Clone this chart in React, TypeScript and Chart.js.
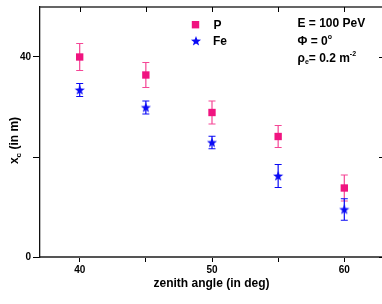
import { useEffect, useRef } from 'react';
import { Chart, registerables } from 'chart.js';
Chart.register(...registerables);

const angles = [40, 45, 50, 55, 60];
const pValues = [40.0, 36.4, 28.9, 24.1, 13.8];
const pErrors = [2.7, 2.5, 2.3, 2.2, 2.6];
const feValues = [33.4, 29.9, 22.9, 16.2, 9.5];
const feErrors = [1.3, 1.3, 1.25, 2.3, 2.15];
const xTickValues = [40, 45, 50, 55, 60];
const xLabelValues = [40, 50, 60];
const yTickValues = [0, 20, 40];
const yLabelValues = [0, 40];

const PINK = 'rgb(240, 20, 128)';
const PINK_BAR = 'rgb(245, 70, 150)';
const BLUE = 'rgb(10, 10, 245)';
const FONT = '"Liberation Sans", Arial, sans-serif';
const CANVAS_W = 391;

function starPath(ctx: CanvasRenderingContext2D, cx: number, cy: number, R: number, r: number) {
  ctx.beginPath();
  for (let i = 0; i < 10; i++) {
    const rad = i % 2 === 0 ? R : r;
    const a = -Math.PI / 2 + (i * Math.PI) / 5;
    const px = cx + rad * Math.cos(a);
    const py = cy + rad * Math.sin(a);
    if (i === 0) ctx.moveTo(px, py);
    else ctx.lineTo(px, py);
  }
  ctx.closePath();
}

function makeStar(): HTMLCanvasElement {
  const c = document.createElement('canvas');
  c.width = 12;
  c.height = 12;
  const ctx = c.getContext('2d')!;
  starPath(ctx, 6, 6.4, 5.3, 2.2);
  ctx.fillStyle = BLUE;
  ctx.fill();
  return c;
}

function drawErrorBars(chart: any, values: number[], errors: number[], color: string) {
  const ctx = chart.ctx;
  const xs = chart.scales.x;
  const ys = chart.scales.y;
  ctx.save();
  ctx.strokeStyle = color;
  ctx.lineWidth = 1.2;
  for (let i = 0; i < angles.length; i++) {
    const x = xs.getPixelForValue(angles[i]);
    const yt = ys.getPixelForValue(values[i] + errors[i]);
    const yb = ys.getPixelForValue(values[i] - errors[i]);
    ctx.beginPath();
    ctx.moveTo(x, yt);
    ctx.lineTo(x, yb);
    ctx.moveTo(x - 3.5, yt);
    ctx.lineTo(x + 3.5, yt);
    ctx.moveTo(x - 3.5, yb);
    ctx.lineTo(x + 3.5, yb);
    ctx.stroke();
  }
  ctx.restore();
}

function drawRich(ctx: CanvasRenderingContext2D, parts: { t: string; size: number; dy: number }[], x: number, y: number) {
  let cx = x;
  for (const p of parts) {
    ctx.font = `bold ${p.size}px ${FONT}`;
    ctx.fillText(p.t, cx, y + p.dy);
    cx += ctx.measureText(p.t).width;
  }
}

function richWidth(ctx: CanvasRenderingContext2D, parts: { t: string; size: number; dy: number }[]) {
  let w = 0;
  for (const p of parts) {
    ctx.font = `bold ${p.size}px ${FONT}`;
    w += ctx.measureText(p.t).width;
  }
  return w;
}

const decor = {
  id: 'decor',
  beforeDatasetsDraw(chart: any) {
    drawErrorBars(chart, pValues, pErrors, PINK_BAR);
    drawErrorBars(chart, feValues, feErrors, BLUE);
  },
  afterDraw(chart: any) {
    const ctx: CanvasRenderingContext2D = chart.ctx;
    const { left, right, top, bottom } = chart.chartArea;
    const xs = chart.scales.x;
    const ys = chart.scales.y;
    ctx.save();
    ctx.strokeStyle = '#333';
    ctx.lineWidth = 1.5;
    ctx.beginPath();
    ctx.moveTo(left, top);
    ctx.lineTo(right, top);
    ctx.lineTo(right, bottom);
    ctx.stroke();
    ctx.strokeStyle = '#000';
    ctx.lineWidth = 1;
    ctx.beginPath();
    for (const v of xTickValues) {
      const x = Math.round(xs.getPixelForValue(v)) + 0.5;
      ctx.moveTo(x, top);
      ctx.lineTo(x, top + 5);
    }
    for (const v of yTickValues) {
      const y = Math.round(ys.getPixelForValue(v)) + 0.5;
      ctx.moveTo(right, y);
      ctx.lineTo(right - 5, y);
    }
    ctx.stroke();

    ctx.fillStyle = '#000';
    ctx.textBaseline = 'alphabetic';
    ctx.textAlign = 'left';

    ctx.fillStyle = PINK;
    ctx.fillRect(191.8, 21, 7.4, 7.4);
    starPath(ctx, 196, 41.3, 5.3, 2.2);
    ctx.fillStyle = BLUE;
    ctx.fill();
    ctx.fillStyle = '#000';
    ctx.font = `bold 12px ${FONT}`;
    ctx.fillText('P', 213.5, 28.8);
    ctx.fillText('Fe', 213, 45.3);

    ctx.fillText('E = 100 PeV', 297.5, 26.7);
    drawRich(ctx, [
      { t: 'Φ = 0', size: 12, dy: 0 },
      { t: 'o', size: 7, dy: -6 },
    ], 297.5, 44.8);
    drawRich(ctx, [
      { t: 'ρ', size: 12, dy: 0 },
      { t: 'e', size: 7, dy: 2.5 },
      { t: '= 0.2 m', size: 12, dy: 0 },
      { t: '-2', size: 7, dy: -6 },
    ], 297.5, 61.5);

    ctx.font = `bold 12px ${FONT}`;
    ctx.textAlign = 'center';
    ctx.fillText('zenith angle (in deg)', 211.5, 287);

    ctx.textAlign = 'left';
    const parts = [
      { t: 'x', size: 12, dy: 0 },
      { t: 'c', size: 8, dy: 3 },
      { t: ' (in m)', size: 12, dy: 0 },
    ];
    const w = richWidth(ctx, parts);
    ctx.translate(18, 140.5);
    ctx.rotate(-Math.PI / 2);
    drawRich(ctx, parts, -w / 2, 0);
    ctx.restore();
  },
};

export default function App() {
  const ref = useRef<HTMLCanvasElement>(null);
  useEffect(() => {
    const canvas = ref.current!;
    const star = makeStar();
    const chart = new Chart(canvas, {
      type: 'scatter',
      data: {
        datasets: [
          {
            label: 'P',
            data: angles.map((a, i) => ({ x: a, y: pValues[i] })),
            pointStyle: 'rect',
            pointRadius: 5.2,
            pointHoverRadius: 5.2,
            backgroundColor: PINK,
            borderColor: PINK,
            borderWidth: 0,
          },
          {
            label: 'Fe',
            data: angles.map((a, i) => ({ x: a, y: feValues[i] })),
            pointStyle: star as any,
            pointRadius: 6,
            backgroundColor: BLUE,
            borderColor: BLUE,
          },
        ],
      },
      options: {
        animation: false,
        responsive: false,
        devicePixelRatio: 1,
        layout: { padding: { top: 6, right: 0, left: 0, bottom: 0 } },
        plugins: { legend: { display: false }, tooltip: { enabled: false } },
        events: [],
        scales: {
          x: {
            type: 'linear',
            min: 37,
            max: 63,
            afterBuildTicks: (s: any) => {
              s.ticks = xTickValues.map((v) => ({ value: v }));
            },
            afterFit: (s: any) => {
              s.height = 47;
              s.paddingLeft = 0;
              s.paddingRight = 0;
            },
            ticks: {
              autoSkip: false,
              maxRotation: 0,
              padding: 2,
              color: '#000',
              font: { family: FONT, size: 10, weight: 'bold' },
              callback: (v: any) => (xLabelValues.includes(Number(v)) ? String(v) : ''),
            },
            grid: {
              display: true,
              drawOnChartArea: false,
              drawTicks: true,
              tickLength: 5,
              color: '#000',
              lineWidth: 1,
            },
            border: { display: true, color: '#555', width: 2 },
          },
          y: {
            type: 'linear',
            min: 0,
            max: 50,
            afterBuildTicks: (s: any) => {
              s.ticks = yTickValues.map((v) => ({ value: v }));
            },
            afterFit: (s: any) => {
              s.width = 40;
              s.paddingTop = 0;
              s.paddingBottom = 0;
            },
            ticks: {
              autoSkip: false,
              padding: 2,
              color: '#000',
              font: { family: FONT, size: 10, weight: 'bold' },
              callback: (v: any) => (yLabelValues.includes(Number(v)) ? String(v) : ''),
            },
            grid: {
              display: true,
              drawOnChartArea: false,
              drawTicks: true,
              tickLength: 7,
              color: '#000',
              lineWidth: 1,
            },
            border: { display: true, color: '#111', width: 1.3 },
          },
        },
      },
      plugins: [decor],
    });
    return () => chart.destroy();
  }, []);
  return (
    <div style={{ position: 'fixed', left: 0, top: 0, width: 382, height: 304, overflow: 'hidden', background: '#fff' }}>
      <canvas ref={ref} width={CANVAS_W} height={304} style={{ width: CANVAS_W, height: 304, display: 'block' }} />
    </div>
  );
}
